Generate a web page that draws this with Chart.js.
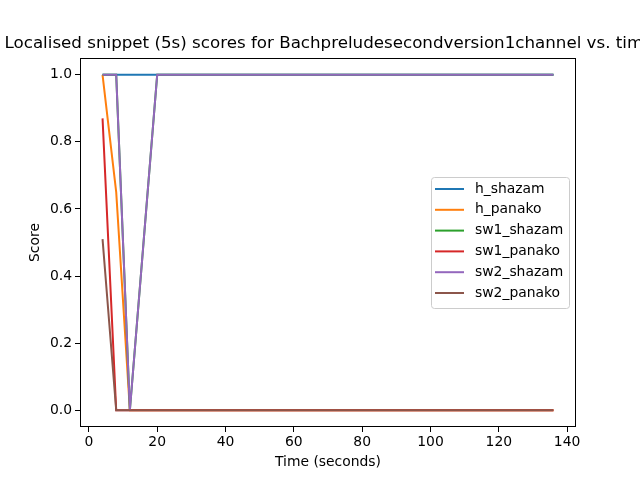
<!DOCTYPE html>
<html>
<head>
<meta charset="utf-8">
<script src="https://cdn.jsdelivr.net/npm/chart.js@4/dist/chart.umd.min.js"></script>
<style>
    html, body { margin: 0; padding: 0; background: #fff; }
    .chartbox { width: 640px; height: 480px; }
</style>
</head>
<body>
<div class="chartbox"><canvas class="chartbox---chart" width="640" height="480"></canvas></div>
<script>
"use strict";

const chartTitle = "Localised snippet (5s) scores for Bachpreludesecondversion1channel vs. time";

// snippet start times (seconds)
const times = [4, 8, 12, 16, 20, 24, 28, 32, 36, 40, 44, 48, 52, 56, 60, 64, 68,
    72, 76, 80, 84, 88, 92, 96, 100, 104, 108, 112, 116, 120, 124, 128, 132, 136];

const h_shazam = [1, 1, 1, 1, 1, 1, 1, 1, 1, 1, 1, 1, 1, 1, 1, 1, 1,
    1, 1, 1, 1, 1, 1, 1, 1, 1, 1, 1, 1, 1, 1, 1, 1, 1];
const h_panako = [1, 0.65, 0, 0, 0, 0, 0, 0, 0, 0, 0, 0, 0, 0, 0, 0, 0,
    0, 0, 0, 0, 0, 0, 0, 0, 0, 0, 0, 0, 0, 0, 0, 0, 0];
const sw1_shazam = [1, 1, 0, 0.5, 1, 1, 1, 1, 1, 1, 1, 1, 1, 1, 1, 1, 1,
    1, 1, 1, 1, 1, 1, 1, 1, 1, 1, 1, 1, 1, 1, 1, 1, 1];
const sw1_panako = [0.87, 0, 0, 0, 0, 0, 0, 0, 0, 0, 0, 0, 0, 0, 0, 0, 0,
    0, 0, 0, 0, 0, 0, 0, 0, 0, 0, 0, 0, 0, 0, 0, 0, 0];
const sw2_shazam = [1, 1, 0, 0.5, 1, 1, 1, 1, 1, 1, 1, 1, 1, 1, 1, 1, 1,
    1, 1, 1, 1, 1, 1, 1, 1, 1, 1, 1, 1, 1, 1, 1, 1, 1];
const sw2_panako = [0.51, 0, 0, 0, 0, 0, 0, 0, 0, 0, 0, 0, 0, 0, 0, 0, 0,
    0, 0, 0, 0, 0, 0, 0, 0, 0, 0, 0, 0, 0, 0, 0, 0, 0];

const xTicks = [0, 20, 40, 60, 80, 100, 120, 140];
const yTicks = [0, 0.2, 0.4, 0.6, 0.8, 1.0];

const seriesNames = ["h_shazam", "h_panako", "sw1_shazam", "sw1_panako", "sw2_shazam", "sw2_panako"];
const seriesData = [h_shazam, h_panako, sw1_shazam, sw1_panako, sw2_shazam, sw2_panako];
const colors = ["#1f77b4", "#ff7f0e", "#2ca02c", "#d62728", "#9467bd", "#8c564b"];

const FONT = "'DejaVu Sans', sans-serif";
Chart.defaults.font.family = FONT;
Chart.defaults.font.size = 13.9;
Chart.defaults.color = "#000";

function toPoints(arr) {
    return arr.map((v, i) => ({ x: times[i], y: v }));
}

// matplotlib-ish: title over axes centre, full box frame, legend at centre right
const mplLook = {
    id: "mplLook",
    afterDraw(chart) {
        const ctx = chart.ctx;
        const a = chart.chartArea;
        ctx.save();

        ctx.strokeStyle = "#000";
        ctx.lineWidth = 1;
        ctx.strokeRect(Math.round(a.left) + 0.5, Math.round(a.top) + 0.5,
            Math.round(a.right - a.left) - 1, Math.round(a.bottom - a.top) - 1);

        ctx.fillStyle = "#000";
        ctx.font = "16.7px " + FONT;
        ctx.textAlign = "center";
        ctx.textBaseline = "alphabetic";
        ctx.fillText(chartTitle, (a.left + a.right) / 2 + 1, 48);

        // legend
        const bx = 431.5, by = 177.5, bw = 138, bh = 131, rowH = 20.8;
        ctx.beginPath();
        ctx.roundRect(bx, by, bw, bh, 3);
        ctx.fillStyle = "rgba(255,255,255,0.8)";
        ctx.fill();
        ctx.strokeStyle = "#cccccc";
        ctx.stroke();
        ctx.font = "13.9px " + FONT;
        ctx.textAlign = "left";
        ctx.textBaseline = "middle";
        chart.data.datasets.forEach((ds, i) => {
            const yy = 189 + i * rowH;
            ctx.strokeStyle = ds.borderColor;
            ctx.lineWidth = 2;
            ctx.beginPath();
            ctx.moveTo(435, yy);
            ctx.lineTo(464, yy);
            ctx.stroke();
            ctx.fillStyle = "#000";
            ctx.fillText(ds.label, 475, yy);
        });
        ctx.restore();
    }
};

new Chart(document.querySelector(".chartbox---chart"), {
    type: "line",
    data: {
        datasets: seriesNames.map((name, i) => ({
            label: name,
            data: toPoints(seriesData[i]),
            borderColor: colors[i],
            backgroundColor: colors[i],
            borderWidth: 2,
            pointRadius: 0,
            tension: 0,
            fill: false,
            order: seriesNames.length - i
        }))
    },
    options: {
        responsive: false,
        animation: false,
        layout: { padding: { left: 0, right: 64, top: 58, bottom: 0 } },
        plugins: {
            legend: { display: false },
            title: { display: false },
            tooltip: { enabled: false }
        },
        scales: {
            x: {
                type: "linear",
                min: -2.6,
                max: 142.6,
                afterBuildTicks: (s) => { s.ticks = xTicks.map(v => ({ value: v })); },
                afterFit: (s) => { s.height = 53; },
                ticks: { padding: 2, maxRotation: 0, autoSkip: false, callback: (v) => String(v) },
                grid: { drawOnChartArea: false, drawTicks: true, tickLength: 5, color: "#000" },
                border: { display: false },
                title: { display: true, text: "Time (seconds)", padding: { top: 0, bottom: 9 } }
            },
            y: {
                type: "linear",
                min: -0.05,
                max: 1.05,
                afterBuildTicks: (s) => { s.ticks = yTicks.map(v => ({ value: v })); },
                afterFit: (s) => { s.width = 80; },
                ticks: { padding: 3, autoSkip: false, callback: (v) => v.toFixed(1) },
                grid: { drawOnChartArea: false, drawTicks: true, tickLength: 5, color: "#000" },
                border: { display: false },
                title: { display: true, text: "Score", padding: { top: 27, bottom: 0 } }
            }
        }
    },
    plugins: [mplLook]
});
</script>
</body>
</html>
